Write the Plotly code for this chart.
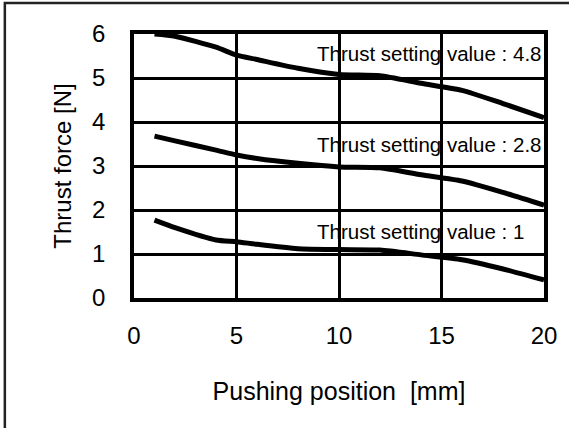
import plotly.graph_objects as go

# pushing position [mm] and thrust force [N]
pos_48 = [1, 2, 4, 5, 6, 8, 10, 12, 14, 16, 18, 20]
force_48 = [6.0, 5.95, 5.7, 5.52, 5.42, 5.22, 5.08, 5.05, 4.88, 4.72, 4.42, 4.1]

pos_28 = [1, 2, 4, 5, 6, 8, 10, 12, 14, 16, 18, 20]
force_28 = [3.68, 3.57, 3.36, 3.25, 3.17, 3.06, 2.98, 2.96, 2.8, 2.66, 2.4, 2.11]

pos_1 = [1, 2, 4, 5, 6, 8, 10, 12, 14, 16, 18, 20]
force_1 = [1.77, 1.6, 1.32, 1.28, 1.22, 1.12, 1.1, 1.09, 0.98, 0.87, 0.66, 0.41]

labels = ["Thrust setting value : 4.8", "Thrust setting value : 2.8", "Thrust setting value : 1"]
label_y = [5.55, 3.48, 1.51]

x_ticks = [0, 5, 10, 15, 20]
y_ticks = [0, 1, 2, 3, 4, 5, 6]

fig = go.Figure()
for xs, ys in [(pos_48, force_48), (pos_28, force_28), (pos_1, force_1)]:
    fig.add_trace(go.Scatter(x=xs, y=ys, mode="lines", line=dict(color="black", width=5, shape="spline", smoothing=0.6),
                             showlegend=False, hoverinfo="skip"))

for txt, yv in zip(labels, label_y):
    fig.add_annotation(x=8.85, y=yv, text=txt, showarrow=False, xanchor="left", yanchor="middle",
                       font=dict(family="Liberation Sans Narrow, Arial Narrow, Liberation Sans, Arial", size=20.5, color="black"))

axis_common = dict(showgrid=True, gridcolor="black", gridwidth=2.5, zeroline=False,
                   showline=True, linecolor="black", linewidth=3.5, mirror=True, ticks="",
                   tickfont=dict(size=24, color="black"))

fig.update_xaxes(range=[0, 20], tickvals=x_ticks, ticklabelstandoff=13,
                 title=dict(text="Pushing position \u00a0[mm]", font=dict(size=25, color="black"), standoff=36),
                 **axis_common)
fig.update_yaxes(range=[0, 6], tickvals=y_ticks, ticklabelstandoff=20,
                 title=dict(text="Thrust force [N]", font=dict(size=24, color="black"), standoff=15),
                 **axis_common)

# outer frame, clipped at right and bottom like the original
fig.add_shape(type="rect", xref="paper", yref="paper", x0=-0.315, x1=1.2, y0=-0.6, y1=1.117,
              line=dict(color="#222222", width=2.5), layer="below")

fig.update_layout(width=569, height=428, margin=dict(l=134, r=22, t=34, b=130),
                  paper_bgcolor="white", plot_bgcolor="white",
                  font=dict(family="Liberation Sans, Arial, sans-serif", color="black"))

fig.write_html("out.html", config={"displayModeBar": False},
               post_script="document.body.style.margin='0';")
